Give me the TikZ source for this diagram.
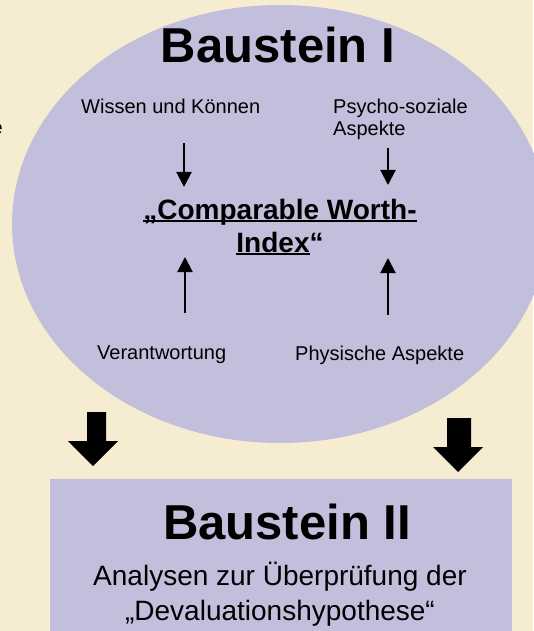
\documentclass[tikz,border=0pt]{standalone}
\usepackage{fontspec}
\setmainfont{Liberation Sans}
\usetikzlibrary{arrows.meta}
\definecolor{paper}{HTML}{F5ECD2}
\definecolor{lilac}{HTML}{C2BFDC}
\newcommand{\ulbar}[1]{\setbox0\hbox{#1}\rlap{\rule[-3pt]{\wd0}{1.8pt}}\box0}

\begin{document}
\begin{tikzpicture}[x=1pt,y=-1pt,
  txt/.style={font=\fontsize{20}{22}\selectfont,inner sep=0pt},
  head/.style={font=\fontsize{49}{55}\selectfont\bfseries,inner sep=0pt},
  feed/.style={line width=2pt,-{Triangle[width=15pt,length=15pt]}}]
  \fill[paper] (0,0) rectangle (533,631);
  \useasboundingbox (0,0) rectangle (533,631);
  \fill[lilac] (280,224) ellipse [x radius=268, y radius=219];
  \fill[lilac] (50,479) rectangle (512,631);

  % Baustein I
  \node[txt,anchor=base east] (cut) at (3,135) {e};
  \node[head,anchor=base] (b1) at (278,63) {Baustein I};
  \node[txt,anchor=base west] (wissen) at (81,114) {Wissen und Können};
  \node[txt,anchor=base west,align=left] (psycho) at (333,136) {Psycho-soziale\\Aspekte};
  \node[txt,anchor=base west] (verant) at (97,359) {Verantwortung};
  \node[txt,anchor=base west] (phys) at (295,360) {Physische Aspekte};
  \node[inner sep=0pt,anchor=base,align=center,
        font=\fontsize{28}{33}\selectfont\bfseries] (index) at (280,252)
        {\ulbar{„Comparable Worth-}\\\ulbar{Index}“};

  \coordinate (wk) at (184,143);  \coordinate (wk-in) at (184,187);
  \coordinate (ps) at (388,148);  \coordinate (ps-in) at (388,185);
  \coordinate (vw) at (185,313);  \coordinate (vw-in) at (185,257);
  \coordinate (ph) at (388,315);  \coordinate (ph-in) at (388,258);
  \draw[feed] (wk) -- (wk-in);
  \draw[feed] (ps) -- (ps-in);
  \draw[feed] (vw) -- (vw-in);
  \draw[feed] (ph) -- (ph-in);

  % block arrows
  \fill (87,412) -- (106,412) -- (106,441) -- (118,441) -- (93,466)
    -- (68,441) -- (87,441) -- cycle;
  \fill (447,418) -- (471,418) -- (471,447) -- (483,447) -- (458,472)
    -- (433,447) -- (447,447) -- cycle;

  % Baustein II
  \node[head,anchor=base] (b2) at (287,539) {Baustein II};
  \node[inner sep=0pt,anchor=base,align=center,
        font=\fontsize{28}{35}\selectfont] (analysen) at (280,620)
        {Analysen zur Überprüfung der\\„Devaluationshypothese“};
\end{tikzpicture}
\end{document}
